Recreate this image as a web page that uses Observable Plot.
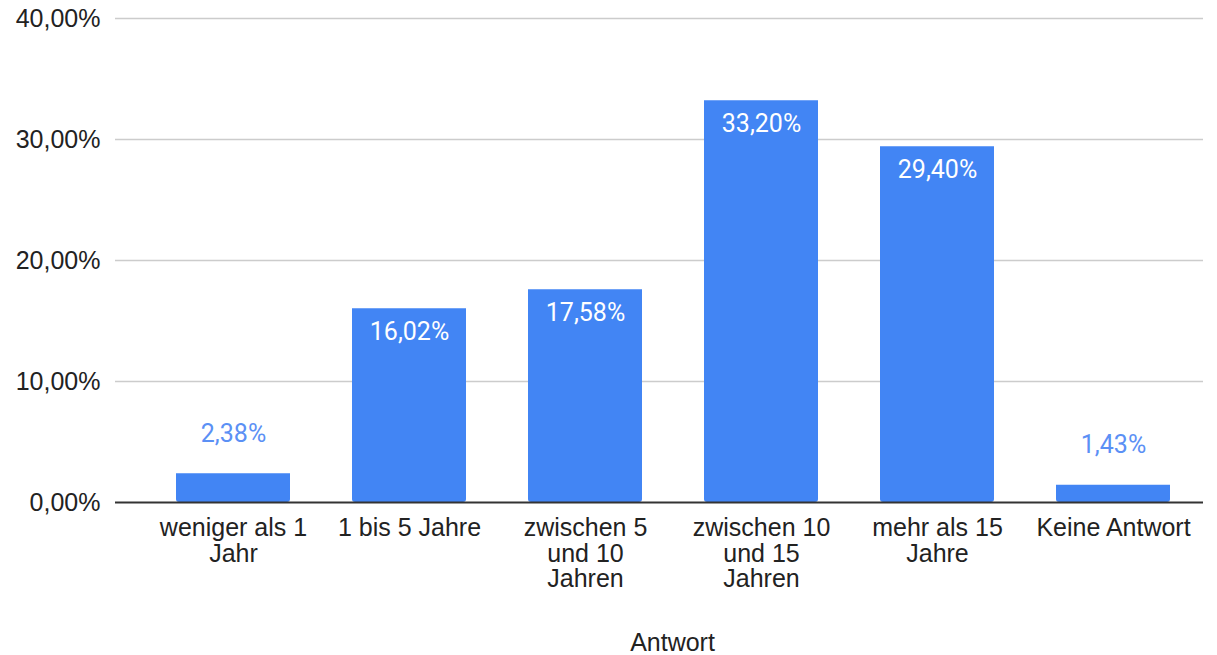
<!DOCTYPE html>
<html>
<head>
<meta charset="utf-8">
<script src="https://cdn.jsdelivr.net/npm/d3@7"></script>
<script src="https://cdn.jsdelivr.net/npm/@observablehq/plot@0.6"></script>
<style>
  html, body { margin: 0; padding: 0; background: #fff; }
  #chart svg { display: block; }
</style>
</head>
<body>
<div id="chart"></div>
<script>
const categories = [
  "weniger als 1\nJahr",
  "1 bis 5 Jahre",
  "zwischen 5\nund 10\nJahren",
  "zwischen 10\nund 15\nJahren",
  "mehr als 15\nJahre",
  "Keine Antwort"
];
const values = [2.38, 16.02, 17.58, 33.20, 29.40, 1.43];
const yTicks = [0, 10, 20, 30, 40];
const xTitle = "Antwort";

const data = categories.map((c, i) => ({cat: c, v: values[i]}));
const fmt = d => d.toFixed(2).replace(".", ",") + "%";
const inside = data.filter(d => d.v > 5);
const outside = data.filter(d => d.v <= 5);

const blue = "#4285f4";

const chart = Plot.plot({
  width: 1217,
  height: 655,
  marginTop: 18,
  marginBottom: 153,
  marginLeft: 115,
  marginRight: 14,
  style: {fontFamily: "'Liberation Sans', Arial, sans-serif", background: "#fff"},
  x: {domain: categories, range: [176, 1171], paddingInner: 0.35, paddingOuter: 0},
  y: {domain: [0, 40]},
  marks: [
    Plot.ruleY(yTicks.filter(t => t > 0), {stroke: "#cccccc", strokeWidth: 1.5}),
    Plot.barY(data, {x: "cat", y: "v", fill: blue, ry2: 3}),
    Plot.ruleY([0], {stroke: "#333333", strokeWidth: 2}),
    Plot.axisY({ticks: yTicks, tickSize: 0, tickPadding: 15, tickFormat: fmt, fontSize: 25, fill: "#222", label: null}),
    Plot.axisX({tickSize: 0, tickPadding: 15, fontSize: 25, lineHeight: 1.03, fill: "#222", label: null}),
    Plot.text(inside, {x: "cat", y: "v", text: d => fmt(d.v), dy: 23, fill: "#ffffff", fontSize: 25, fontFamily: "Roboto, sans-serif"}),
    Plot.text(outside, {x: "cat", y: "v", text: d => fmt(d.v), dy: -40, fill: "#5b90f5", fontSize: 25, fontFamily: "Roboto, sans-serif"}),
    Plot.text([xTitle], {frameAnchor: "bottom", dy: 148, dx: 13, fontSize: 25, fill: "#222"})
  ]
});
document.getElementById("chart").append(chart);
</script>
</body>
</html>
